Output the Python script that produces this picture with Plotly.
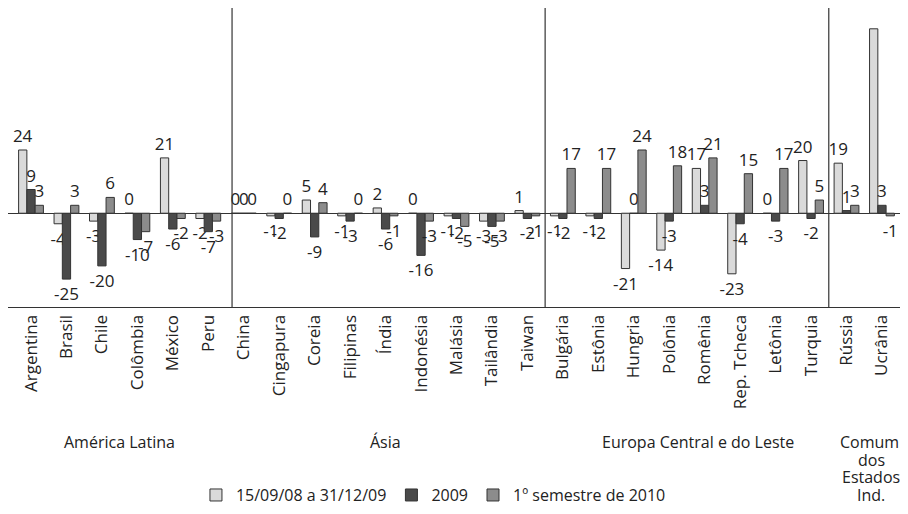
import plotly.graph_objects as go

countries = ["Argentina", "Brasil", "Chile", "Colômbia", "México", "Peru",
             "China", "Cingapura", "Coreia", "Filipinas", "Índia", "Indonésia",
             "Malásia", "Tailândia", "Taiwan",
             "Bulgária", "Estônia", "Hungria", "Polônia", "Romênia", "Rep. Tcheca",
             "Letônia", "Turquia",
             "Rússia", "Ucrânia"]

s_crisis = [24, -4, -3, 0, 21, -2,
            0, -1, 5, -1, 2, 0, -1, -3, 1,
            -1, -1, -21, -14, 17, -23, 0, 20,
            19, 70]
s_2009 = [9, -25, -20, -10, -6, -7,
          0, -2, -9, -3, -6, -16, -2, -5, -2,
          -2, -2, 0, -3, 3, -4, -3, -2,
          1, 3]
s_2010 = [3, 3, 6, -7, -2, -3,
          0, 0, 4, 0, -1, -3, -5, -3, -1,
          17, 17, 24, 18, 21, 15, 17, 5,
          3, -1]

series_names = ["15/09/08 a 31/12/09", "2009", "1º semestre de 2010"]
series_colors = ["#dadada", "#4a4a4a", "#8c8c8c"]

groups = ["América Latina", "Ásia", "Europa Central e do Leste"]
group_label_x = [2.5, 10.0, 18.8]
cis_label_lines = ["Comum.", "dos", "Estados", "Ind."]
cis_label_x = 23.7

FONT = "Open Sans"
idx = list(range(len(countries)))
group_sizes = [6, 9, 8, 2]

fig = go.Figure()
for i, (name, vals, col) in enumerate(zip(series_names, [s_crisis, s_2009, s_2010], series_colors)):
    texts = [str(v) for v in vals]
    if i == 0:
        texts[-1] = ""  # value label not shown in original (Ucrânia)
    fig.add_trace(go.Bar(
        x=idx, y=vals, name=name,
        marker=dict(color=col, line=dict(color="#333333", width=1)),
        text=texts, textposition="outside", constraintext="none",
        textfont=dict(family=FONT, size=17, color="#222"),
        cliponaxis=False,
    ))

# group separators
pos = 0
seps = []
for gs in group_sizes[:-1]:
    pos += gs
    seps.append(pos - 0.5)
seps[0] = 5.67
for s in seps:
    fig.add_shape(type="line", xref="x", yref="paper", x0=s, x1=s, y0=0, y1=1,
                  line=dict(color="#333333", width=1.2))

# group labels
for g, gx in zip(groups, group_label_x):
    fig.add_annotation(x=gx, xref="x", y=-0.408, yref="paper", text=g,
                       showarrow=False, yanchor="top",
                       font=dict(family=FONT, size=16, color="#222"))
for k, line in enumerate(cis_label_lines):
    fig.add_annotation(x=cis_label_x, xref="x", y=-0.408 - k * 0.059, yref="paper", text=line,
                       showarrow=False, yanchor="top",
                       font=dict(family=FONT, size=16, color="#222"))

fig.update_layout(
    width=908, height=514,
    margin=dict(l=0, r=0, t=0, b=215, autoexpand=False),
    plot_bgcolor="white", paper_bgcolor="white",
    barmode="group", bargap=0.3, bargroupgap=0,
    font=dict(family=FONT, size=16, color="#222"),
    showlegend=True,
    legend=dict(orientation="h", x=0.207, xanchor="left", y=-0.629, yanchor="middle",
                font=dict(family=FONT, size=16, color="#222"),
                itemwidth=30, traceorder="normal"),
)
fig.update_xaxes(range=[-0.649, 24.96], tickmode="array", tickvals=idx, ticktext=countries,
                 tickangle=-90, showgrid=False, showline=True, mirror=True,
                 linecolor="#333333", linewidth=1.2, ticks="", automargin=False,
                 tickfont=dict(family=FONT, size=17, color="#222"))
fig.update_yaxes(range=[-35.6, 77.9], showticklabels=False, showgrid=False,
                 zeroline=True, zerolinecolor="#333333", zerolinewidth=1.2,
                 showline=True, mirror=True, linecolor="#333333", linewidth=1.2, ticks="")

fig.write_html("out.html")
